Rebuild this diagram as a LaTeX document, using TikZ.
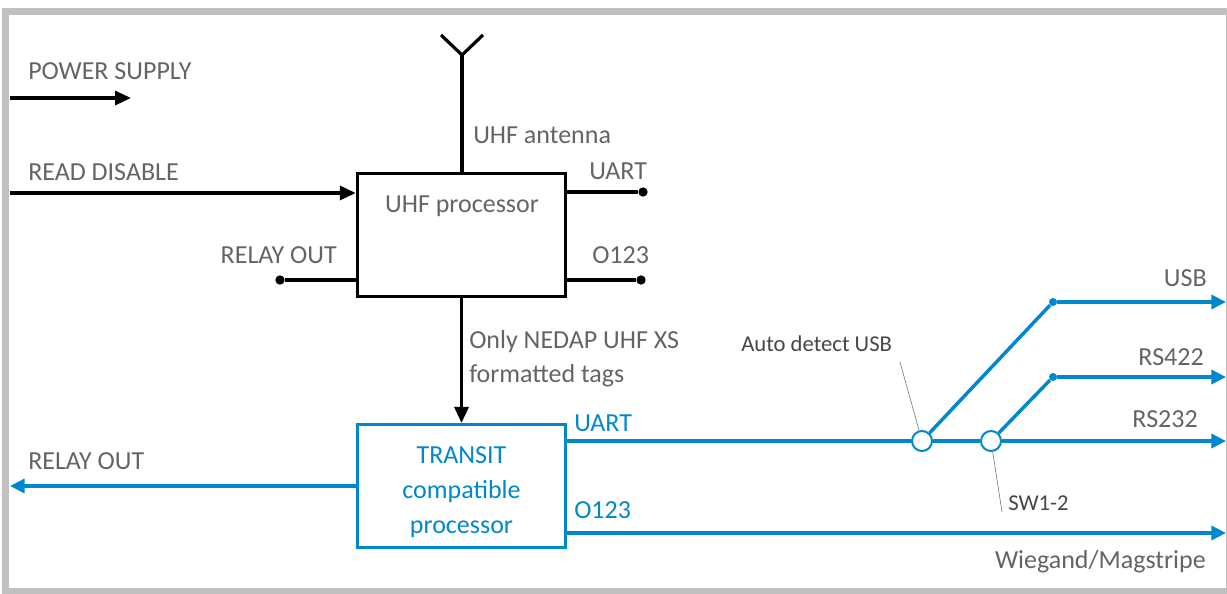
\documentclass[tikz,border=0pt]{standalone}
\usepackage{fontspec}
\setmainfont{Carlito}
\usetikzlibrary{arrows.meta, positioning}
\definecolor{nedapblue}{RGB}{0,136,204}
\definecolor{labelgray}{RGB}{100,100,100}
\definecolor{notegray}{RGB}{70,70,70}
\definecolor{framegray}{RGB}{192,192,192}

\begin{document}
\begin{tikzpicture}[x=0.75pt, y=-0.75pt,
  lbl/.style={inner sep=0pt, text=labelgray, font=\fontsize{19.5}{26}\selectfont},
  note/.style={inner sep=0pt, text=notegray, font=\fontsize{17}{20}\selectfont},
  wire/.style={line width=2.4pt},
  bwire/.style={line width=2.6pt, nedapblue},
  blk/.style={-{Triangle[length=12pt,width=10.5pt]}},
  blu/.style={-{Triangle[length=11pt,width=10.5pt]}},
  procbox/.style={draw, line width=2.6pt, minimum width=156pt, minimum height=92pt, inner sep=0pt},
  endpt/.style={circle, fill, inner sep=0pt, minimum size=7pt},
  switch/.style={circle, draw=nedapblue, fill=white, line width=1.5pt, inner sep=0pt, minimum size=15pt},
  leader/.style={line width=0.5pt, gray}]
\path[use as bounding box] (0,0) rectangle (1227,593);
\draw[framegray, line width=5.25pt] (5.5,11.5) rectangle (1229,591);

% processors
\node[procbox] (uhf) at (461.5,235) {};
\node[procbox, draw=nedapblue] (transit) at (461.5,486) {};
\node[lbl, anchor=base] (uhftext) at (462,212) {UHF processor};
\node[lbl, text=nedapblue, align=center] (transittext) at (461.5,492) {TRANSIT\\compatible\\processor};

% inputs on the left
\coordinate (ps0) at (10,98);
\coordinate (ps1) at (131,98);
\coordinate (rd0) at (10,193);
\draw[wire,blk] (ps0) -- (ps1);
\draw[wire,blk] (rd0) -- (rd0 -| uhf.west);
\node[lbl, anchor=base west] (pslabel) at (28,79) {POWER SUPPLY};
\node[lbl, anchor=base west] (rdlabel) at (28,180) {READ DISABLE};

% antenna
\coordinate (ant) at (462,55);
\draw[wire] (uhf.north -| ant) -- (ant);
\draw[wire] (ant) -- ++(-21,-20) (ant) -- ++(21,-20);
\node[lbl, anchor=base west] (antlabel) at (473,143) {UHF antenna};

% UHF processor ports
\node[endpt] (uartend) at (643,192) {};
\node[endpt] (oend) at (641,280) {};
\node[endpt] (relayend) at (280,280) {};
\draw[wire] (uartend -| uhf.east) -- (uartend);
\draw[wire] (oend -| uhf.east) -- (oend);
\draw[wire] (relayend -| uhf.west) -- (relayend);
\node[lbl, anchor=base west] (uartlabel) at (589,179) {UART};
\node[lbl, anchor=base west] (olabel) at (592,263) {O123};
\node[lbl, anchor=base east] (relaylabel) at (337,263) {RELAY OUT};

% link between processors
\draw[wire,blk] (uhf.south) -- (transit.north);
\node[lbl, anchor=base west] (onlylabel) at (469,348) {Only NEDAP UHF XS};
\node[lbl, anchor=base west] (taglabel) at (469,382) {formatted tags};

% TRANSIT outputs
\node[switch] (autousb) at (922,441) {};
\node[switch] (sw12) at (991,441) {};
\node[endpt, fill=nedapblue, minimum size=6pt] (usbknee) at (1053,302) {};
\node[endpt, fill=nedapblue, minimum size=6pt] (rsknee) at (1053,377) {};
\coordinate (usbout) at (1226,302);
\coordinate (rs422out) at (1226,377);
\coordinate (rs232out) at (1226,441);
\coordinate (wiegout) at (1226,533);
\coordinate (relayout) at (10,486);

\draw[bwire] (transit.east |- autousb) -- (autousb);
\draw[bwire] (autousb) -- (sw12);
\draw[bwire,blu] (sw12) -- (rs232out);
\draw[bwire] (autousb) -- (usbknee);
\draw[bwire,blu] (usbknee) -- (usbout);
\draw[bwire] (sw12) -- (rsknee);
\draw[bwire,blu] (rsknee) -- (rs422out);
\draw[bwire,blu] (transit.east |- wiegout) -- (wiegout);
\draw[bwire,blu] (transit.west |- relayout) -- (relayout);

\node[lbl, text=nedapblue, anchor=base west] (buart) at (574,431) {UART};
\node[lbl, text=nedapblue, anchor=base west] (bo123) at (574,518) {O123};
\node[lbl, anchor=base west] (relay2) at (28,469) {RELAY OUT};
\node[lbl, anchor=base east] (usblabel) at (1207,286) {USB};
\node[lbl, anchor=base east] (rs422label) at (1204,365) {RS422};
\node[lbl, anchor=base east] (rs232label) at (1198,427) {RS232};
\node[lbl, anchor=base east] (wieglabel) at (1206,568) {Wiegand/Magstripe};

% notes with leaders
\coordinate (autotip) at (900,362);
\coordinate (swtip) at (1002,512);
\draw[leader] (autotip) -- (autousb);
\draw[leader] (sw12) -- (swtip);
\node[note, anchor=base west] (autolabel) at (741,351) {Auto detect USB};
\node[note, anchor=base west] (swlabel) at (1008,510) {SW1-2};
\end{tikzpicture}
\end{document}
